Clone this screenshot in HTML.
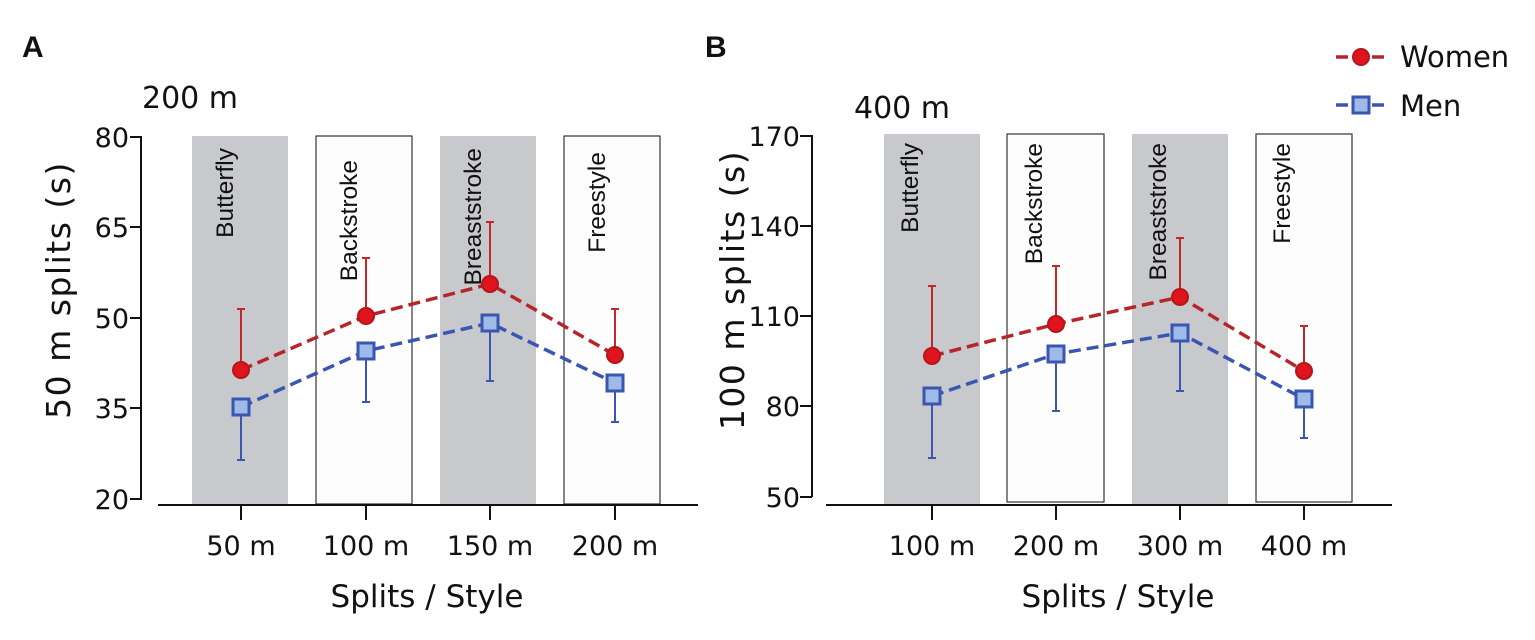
<!DOCTYPE html>
<html><head><meta charset="utf-8"><style>
body{margin:0;background:#fff}
svg text{font-family:"DejaVu Sans","Liberation Sans",sans-serif;fill:#111}
.bl{font-family:"Liberation Sans",sans-serif !important;font-size:24.5px}
</style></head><body>
<svg width="1535" height="635" viewBox="0 0 1535 635" xmlns="http://www.w3.org/2000/svg">
<!-- Panel A -->
<text x="22" y="57" font-size="30" font-weight="bold" style="font-family:'Liberation Sans',sans-serif">A</text>
<text x="142" y="108" font-size="30">200 m</text>
<rect x="192" y="136" width="96" height="369" fill="#c8c9cc"/>
<rect x="316" y="136" width="96" height="368" fill="#fdfdfd" stroke="#333" stroke-width="1.2"/>
<rect x="440" y="136" width="96" height="369" fill="#c8c9cc"/>
<rect x="564" y="136" width="96" height="368" fill="#fdfdfd" stroke="#333" stroke-width="1.2"/>
<text class="bl" text-anchor="end" transform="translate(233,148) rotate(-90)">Butterfly</text>
<text class="bl" text-anchor="end" transform="translate(357,160) rotate(-90)">Backstroke</text>
<text class="bl" text-anchor="end" transform="translate(481,148) rotate(-90)">Breaststroke</text>
<text class="bl" text-anchor="end" transform="translate(605,152) rotate(-90)">Freestyle</text>
<g stroke="#111" stroke-width="2" fill="none">
<line x1="141" y1="136" x2="141" y2="500"/>
<line x1="130" y1="137" x2="141" y2="137"/><line x1="130" y1="227" x2="141" y2="227"/><line x1="130" y1="318" x2="141" y2="318"/><line x1="130" y1="408" x2="141" y2="408"/><line x1="130" y1="499" x2="141" y2="499"/>
<line x1="158" y1="505" x2="698" y2="505"/>
<line x1="241" y1="505" x2="241" y2="520"/><line x1="366" y1="505" x2="366" y2="520"/><line x1="490" y1="505" x2="490" y2="520"/><line x1="615" y1="505" x2="615" y2="520"/>
</g>
<g font-size="27" text-anchor="end">
<text x="129" y="147">80</text><text x="129" y="237">65</text><text x="129" y="328">50</text><text x="129" y="418">35</text><text x="129" y="509">20</text>
</g>
<g font-size="27" text-anchor="middle">
<text x="241" y="555">50 m</text><text x="366" y="555">100 m</text><text x="490" y="555">150 m</text><text x="615" y="555">200 m</text>
<text x="427" y="607" font-size="31">Splits / Style</text>
</g>
<text transform="translate(70,290) rotate(-90)" font-size="33" letter-spacing="1.5" text-anchor="middle">50 m splits (s)</text>
<g stroke="#c0282a" stroke-width="2">
<line x1="241" y1="370" x2="241" y2="309"/><line x1="237" y1="309" x2="245" y2="309"/>
<line x1="366" y1="316" x2="366" y2="258"/><line x1="362" y1="258" x2="370" y2="258"/>
<line x1="490" y1="284" x2="490" y2="222"/><line x1="486" y1="222" x2="494" y2="222"/>
<line x1="615" y1="355" x2="615" y2="309"/><line x1="611" y1="309" x2="619" y2="309"/>
</g>
<g stroke="#3a56b0" stroke-width="2">
<line x1="241" y1="407" x2="241" y2="460"/><line x1="237" y1="460" x2="245" y2="460"/>
<line x1="366" y1="351" x2="366" y2="402"/><line x1="362" y1="402" x2="370" y2="402"/>
<line x1="490" y1="323" x2="490" y2="381"/><line x1="486" y1="381" x2="494" y2="381"/>
<line x1="615" y1="383" x2="615" y2="422"/><line x1="611" y1="422" x2="619" y2="422"/>
</g>
<polyline points="241,370 366,316 490,284 615,355" fill="none" stroke="#b5262a" stroke-width="3.5" stroke-dasharray="12,6"/>
<polyline points="241,407 366,351 490,323 615,383" fill="none" stroke="#3a56b0" stroke-width="3.5" stroke-dasharray="12,6"/>
<g fill="#e0141c" stroke="#b5161c" stroke-width="2">
<circle cx="241" cy="370" r="8"/><circle cx="366" cy="316" r="8"/><circle cx="490" cy="284" r="8"/><circle cx="615" cy="355" r="8"/>
</g>
<g fill="#9dbbe6" stroke="#3a56b0" stroke-width="3">
<rect x="233" y="399" width="16" height="16"/><rect x="358" y="343" width="16" height="16"/><rect x="482" y="315" width="16" height="16"/><rect x="607" y="375" width="16" height="16"/>
</g>

<!-- Panel B -->
<text x="705" y="57" font-size="30" font-weight="bold" style="font-family:'Liberation Sans',sans-serif">B</text>
<text x="854" y="118" font-size="30">400 m</text>
<rect x="884" y="134" width="96" height="371" fill="#c8c9cc"/>
<rect x="1007" y="134" width="97" height="368" fill="#fdfdfd" stroke="#333" stroke-width="1.2"/>
<rect x="1132" y="134" width="96" height="371" fill="#c8c9cc"/>
<rect x="1256" y="134" width="96" height="368" fill="#fdfdfd" stroke="#333" stroke-width="1.2"/>
<text class="bl" text-anchor="end" transform="translate(918,143) rotate(-90)">Butterfly</text>
<text class="bl" text-anchor="end" transform="translate(1042,143) rotate(-90)">Backstroke</text>
<text class="bl" text-anchor="end" transform="translate(1166,143) rotate(-90)">Breaststroke</text>
<text class="bl" text-anchor="end" transform="translate(1290,143) rotate(-90)">Freestyle</text>
<g stroke="#111" stroke-width="2" fill="none">
<line x1="812" y1="135" x2="812" y2="497"/>
<line x1="800" y1="136" x2="812" y2="136"/><line x1="800" y1="226" x2="812" y2="226"/><line x1="800" y1="316" x2="812" y2="316"/><line x1="800" y1="406" x2="812" y2="406"/><line x1="800" y1="497" x2="812" y2="497"/>
<line x1="826" y1="505" x2="1392" y2="505"/>
<line x1="932" y1="505" x2="932" y2="520"/><line x1="1056" y1="505" x2="1056" y2="520"/><line x1="1180" y1="505" x2="1180" y2="520"/><line x1="1304" y1="505" x2="1304" y2="520"/>
</g>
<g font-size="27" text-anchor="end">
<text x="800" y="146">170</text><text x="800" y="236">140</text><text x="800" y="326">110</text><text x="800" y="416">80</text><text x="800" y="507">50</text>
</g>
<g font-size="27" text-anchor="middle">
<text x="932" y="555">100 m</text><text x="1056" y="555">200 m</text><text x="1180" y="555">300 m</text><text x="1304" y="555">400 m</text>
<text x="1118" y="607" font-size="31">Splits / Style</text>
</g>
<text transform="translate(744,290) rotate(-90)" font-size="33" letter-spacing="1.5" text-anchor="middle">100 m splits (s)</text>
<g stroke="#c0282a" stroke-width="2">
<line x1="932" y1="356" x2="932" y2="286"/><line x1="928" y1="286" x2="936" y2="286"/>
<line x1="1056" y1="324" x2="1056" y2="266"/><line x1="1052" y1="266" x2="1060" y2="266"/>
<line x1="1180" y1="297" x2="1180" y2="238"/><line x1="1176" y1="238" x2="1184" y2="238"/>
<line x1="1304" y1="371" x2="1304" y2="326"/><line x1="1300" y1="326" x2="1308" y2="326"/>
</g>
<g stroke="#3a56b0" stroke-width="2">
<line x1="932" y1="396" x2="932" y2="458"/><line x1="928" y1="458" x2="936" y2="458"/>
<line x1="1056" y1="354" x2="1056" y2="411"/><line x1="1052" y1="411" x2="1060" y2="411"/>
<line x1="1180" y1="333" x2="1180" y2="391"/><line x1="1176" y1="391" x2="1184" y2="391"/>
<line x1="1304" y1="399" x2="1304" y2="438"/><line x1="1300" y1="438" x2="1308" y2="438"/>
</g>
<polyline points="932,356 1056,324 1180,297 1304,371" fill="none" stroke="#b5262a" stroke-width="3.5" stroke-dasharray="12,6"/>
<polyline points="932,396 1056,354 1180,333 1304,399" fill="none" stroke="#3a56b0" stroke-width="3.5" stroke-dasharray="12,6"/>
<g fill="#e0141c" stroke="#b5161c" stroke-width="2">
<circle cx="932" cy="356" r="8"/><circle cx="1056" cy="324" r="8"/><circle cx="1180" cy="297" r="8"/><circle cx="1304" cy="371" r="8"/>
</g>
<g fill="#9dbbe6" stroke="#3a56b0" stroke-width="3">
<rect x="924" y="388" width="16" height="16"/><rect x="1048" y="346" width="16" height="16"/><rect x="1172" y="325" width="16" height="16"/><rect x="1296" y="391" width="16" height="16"/>
</g>
<!-- legend -->
<line x1="1336" y1="57" x2="1388" y2="57" stroke="#b5262a" stroke-width="3.5" stroke-dasharray="12,6"/>
<circle cx="1361" cy="57" r="8" fill="#e0141c" stroke="#b5161c" stroke-width="2"/>
<text x="1400" y="67" font-size="29">Women</text>
<line x1="1336" y1="105" x2="1388" y2="105" stroke="#3a56b0" stroke-width="3.5" stroke-dasharray="12,6"/>
<rect x="1353" y="97" width="16" height="16" fill="#9dbbe6" stroke="#3a56b0" stroke-width="3"/>
<text x="1400" y="116" font-size="29">Men</text>
</svg>
</body></html>
